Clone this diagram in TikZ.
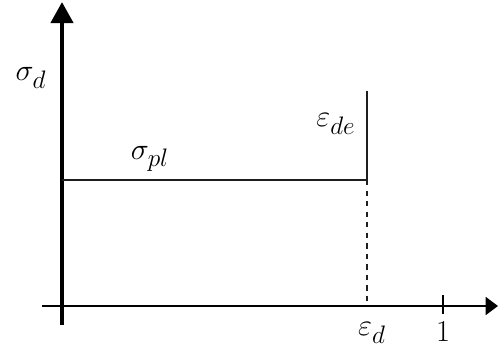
\documentclass[tikz,border=0pt]{standalone}
\usepackage{amsmath}
\usepackage{xcolor}
\usepackage{tikz}
\usetikzlibrary{positioning, arrows.meta}
\definecolor{axisblack}{RGB}{0, 0, 0}
\definecolor{curvegray}{RGB}{30, 30, 30}
\tikzset{
    axisline/.style={draw=axisblack},
    curveline/.style={draw=curvegray, line width=1.2pt},
    lbl/.style={font=\fontsize{19}{21}\selectfont, inner sep=0pt}
}

\begin{document}
\begin{tikzpicture}[x=0.02cm, y=0.02cm]
        \useasboundingbox (0,0) rectangle (498,348);
        % axes
        \coordinate (yb) at (62,23);
        \coordinate (yt) at (62,346);
        \coordinate (xl) at (42,42);
        \coordinate (xr) at (498,42);
        \draw[axisline, line width=2.6pt, -{Triangle[length=12pt, width=12.5pt]}] (yb) -- (yt);
        \draw[axisline, line width=1.6pt, -{Triangle[length=7pt, width=10pt]}] (xl) -- (xr);
        % curve
        \coordinate (plA) at (62,168);
        \coordinate (plB) at (367,168);
        \coordinate (plC) at (367,257);
        \coordinate (epsD) at (367,42);
        \draw[curveline] (plA) -- (plB) -- (plC);
        \draw[curvegray, line width=0.6pt, dashed] (plB) -- (epsD);
        % tick at 1
        \coordinate (tkB) at (443,34);
        \coordinate (tkT) at (443,53);
        \draw[axisline, line width=1.4pt] (tkB) -- (tkT);
        % labels
        \node[lbl] (sigd) at (31,270) {$\sigma_d$};
        \node[lbl] (sigpl) at (150,189) {$\sigma_{pl}$};
        \node[lbl] (epsde) at (336,224) {$\varepsilon_{de}$};
        \node[lbl] (epsd) at (372,15) {$\varepsilon_d$};
        \node[lbl] (one) at (443,16) {$1$};
    \end{tikzpicture}
\end{document}
